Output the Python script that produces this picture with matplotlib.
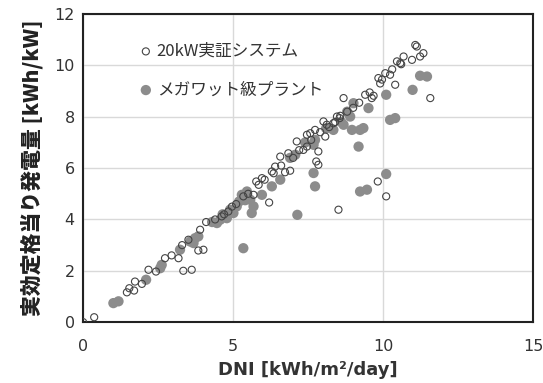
import matplotlib
matplotlib.use("Agg")
import matplotlib.pyplot as plt

plt.rcParams['font.family'] = ['DejaVu Sans', 'Noto Sans CJK JP']

# 20kW demonstration system (hollow markers)
dni_20kw = [0.0, 0.37, 1.46, 1.54, 1.70, 1.73, 1.96, 2.18, 2.43, 2.73, 3.18, 3.34, 3.62,
            3.51, 3.84, 4.01, 3.90, 4.10, 4.40, 4.62, 4.84, 4.96, 5.34, 5.68, 5.77, 5.96,
            6.20, 6.29, 6.40, 6.57, 6.73, 6.90, 6.84, 7.12, 7.34, 7.46, 7.46, 7.57, 7.73,
            7.77, 7.84, 7.84, 8.01, 8.12, 8.07, 8.34, 8.46, 8.57, 8.68, 8.51, 9.40, 9.68,
            9.62, 9.84, 9.96, 10.07, 10.23, 10.40, 9.82, 10.10, 10.46, 10.57, 10.68, 10.96,
            11.07, 11.12, 11.23, 11.34, 11.57, 5.50, 5.85, 6.05, 6.35, 6.60, 7.00, 7.20,
            7.60, 7.90, 8.20, 8.40, 8.55, 8.80, 9.00, 9.20, 9.55, 9.90, 10.30, 10.60,
            4.70, 5.10, 3.30, 2.95]
gen_20kw = [0.0, 0.19, 1.16, 1.32, 1.23, 1.58, 1.49, 2.04, 1.97, 2.49, 2.49, 2.00, 2.04,
            3.21, 2.79, 2.82, 3.60, 3.90, 4.00, 4.12, 4.31, 4.50, 4.90, 4.96, 5.48, 5.61,
            4.66, 5.87, 6.06, 6.45, 5.84, 5.90, 6.58, 7.04, 6.71, 6.84, 7.30, 7.36, 7.49,
            6.26, 6.13, 6.65, 7.82, 7.69, 7.23, 7.75, 8.01, 8.04, 8.73, 4.38, 8.86, 8.82,
            8.73, 9.51, 9.45, 9.70, 9.64, 9.25, 5.48, 4.90, 10.16, 10.09, 10.35, 10.22,
            10.80, 10.74, 10.35, 10.48, 8.73, 5.00, 5.35, 5.55, 5.80, 6.10, 6.40, 6.70,
            7.10, 7.40, 7.60, 7.80, 7.95, 8.20, 8.35, 8.55, 8.95, 9.30, 9.85, 10.05,
            4.20, 4.60, 3.00, 2.60]

# megawatt-class plant (filled markers)
dni_mw = [1.01, 1.18, 2.10, 2.57, 2.62, 3.23, 3.57, 3.73, 3.84, 3.68, 4.46, 4.57, 4.79,
          4.90, 5.01, 5.12, 5.34, 5.29, 5.46, 5.57, 5.62, 5.68, 5.40, 5.96, 6.29, 6.57,
          7.07, 7.68, 7.73, 7.14, 7.68, 7.73, 8.34, 8.68, 8.90, 9.01, 8.96, 9.23, 9.34,
          9.18, 9.51, 9.23, 9.46, 10.10, 10.10, 10.23, 10.40, 10.98, 11.23, 11.46,
          4.30, 4.65, 5.20, 6.90, 7.40, 8.10, 8.80, 8.60]
gen_mw = [0.74, 0.81, 1.65, 2.10, 2.23, 2.82, 3.14, 3.27, 3.34, 3.08, 3.86, 3.99, 4.05,
          4.38, 4.25, 4.51, 2.88, 4.96, 5.09, 4.77, 4.25, 4.51, 4.75, 4.96, 5.29, 5.55,
          6.52, 6.91, 7.10, 4.18, 5.81, 5.29, 7.49, 7.69, 8.01, 8.53, 7.49, 7.49, 7.56,
          6.84, 8.34, 5.09, 5.16, 5.77, 8.86, 7.88, 7.95, 9.05, 9.60, 9.57,
          3.90, 4.20, 4.70, 6.40, 7.00, 7.55, 8.20, 7.80]

label_20kw = '20kW実証システム'
label_mw = 'メガワット級プラント'

fig = plt.figure(figsize=(5.43, 3.83), dpi=100)
ax = fig.add_axes([0.153, 0.159, 0.829, 0.804])

ax.scatter(dni_mw, gen_mw, s=55, color='#8c8c8c', edgecolors='none', label=label_mw, zorder=3)
ax.scatter(dni_20kw, gen_20kw, s=26, facecolors='none', edgecolors='#444444',
           linewidths=0.8, label=label_20kw, zorder=4)

ax.set_xlim(0, 15)
ax.set_ylim(0, 12)
ax.set_xticks([0, 5, 10, 15])
ax.set_yticks(range(0, 13, 2))
ax.grid(True, color='#d9d9d9', linewidth=1)
ax.set_axisbelow(True)
ax.tick_params(axis='y', length=0, labelsize=11.5, colors='#333333', pad=6)
ax.tick_params(axis='x', length=0, labelsize=11.5, colors='#333333', pad=12)
for sp in ax.spines.values():
    sp.set_color('#222222')
    sp.set_linewidth(1.5)

ax.set_xlabel('DNI [kWh/m²/day]', fontsize=13, fontweight='bold', color='#333333', labelpad=5)
ax.set_ylabel('実効定格当り発電量 [kWh/kW]', fontsize=15, fontweight='heavy', color='#222222',
              family=['Noto Sans CJK JP', 'DejaVu Sans'], labelpad=8)

handles, labels = ax.get_legend_handles_labels()
leg = ax.legend(handles[::-1], labels[::-1], loc='upper left', bbox_to_anchor=(0.095, 0.945),
                frameon=False, handlelength=1.0, handletextpad=0.15, labelspacing=1.3,
                markerscale=1.0, borderaxespad=0.3,
                prop={'family': ['Noto Sans CJK JP', 'DejaVu Sans'], 'size': 12})
for t in leg.get_texts():
    t.set_color('#333333')

fig.savefig('out.png', dpi=100)
